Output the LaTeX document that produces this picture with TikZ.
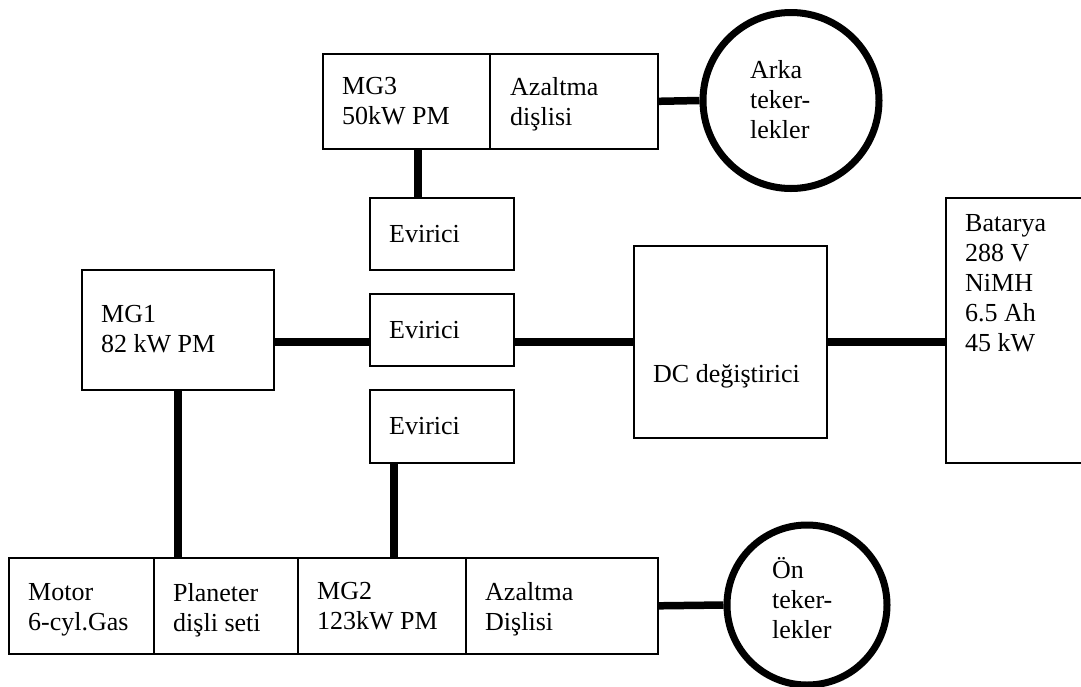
\documentclass[tikz,border=0pt]{standalone}
\usepackage{fontspec}
\setmainfont{Liberation Serif}
\begin{document}
\begin{tikzpicture}[x=1pt,y=-1pt,
  box/.style={draw, line width=1.6pt, rectangle, inner sep=0pt, anchor=north west},
  lbl/.style={font=\fontsize{26}{30}\selectfont, align=left, inner sep=0pt, anchor=north west},
  wheel/.style={draw, circle, line width=7pt, inner sep=0pt, minimum size=#1},
  conn/.style={line width=7.5pt}]
\useasboundingbox (0,0) rectangle (1081,686);
\clip (0,0) rectangle (1081,686);
% top row
\node[box, minimum width=167pt, minimum height=95pt] (mg3) at (322,53) {};
\node[lbl] (mg3t) at (342,77.5) {MG3\\50kW PM};
\node[box, minimum width=168pt, minimum height=95pt] (az1) at (489,53) {};
\node[lbl] (az1t) at (510,77.5) {Azaltma\\dişlisi};
\node[wheel=176pt] (arka) at (791,100.5) {};
\node[lbl] (arkat) at (750,60.5) {Arka\\teker-\\lekler};
% inverters
\node[box, minimum width=144pt, minimum height=72pt] (ev1) at (369,197) {};
\node[lbl] (ev1t) at (389,225.5) {Evirici};
\node[box, minimum width=144pt, minimum height=72pt] (ev2) at (369,293) {};
\node[lbl] (ev2t) at (389,321.5) {Evirici};
\node[box, minimum width=144pt, minimum height=73pt] (ev3) at (369,389) {};
\node[lbl] (ev3t) at (389,417.5) {Evirici};
% MG1
\node[box, minimum width=192pt, minimum height=120pt] (mg1) at (81,269) {};
\node[lbl] (mg1t) at (101,305.5) {MG1\\82 kW PM};
% DC converter
\node[box, minimum width=193pt, minimum height=192pt] (dc) at (633,245) {};
\node[lbl, anchor=base west] (dct) at (653,382) {DC değiştirici};
% battery
\node[box, minimum width=200pt, minimum height=265pt] (bat) at (945,197) {};
\node[lbl] (batt) at (965,214.5) {Batarya\\288 V\\NiMH\\6.5 Ah\\45 kW};
% bottom row
\node[box, minimum width=145pt, minimum height=96pt] (mot) at (8,557) {};
\node[lbl] (mott) at (28,583.5) {Motor\\6-cyl.Gas};
\node[box, minimum width=144pt, minimum height=96pt] (plan) at (153,557) {};
\node[lbl] (plant) at (173,583.5) {Planeter\\dişli seti};
\node[box, minimum width=168pt, minimum height=96pt] (mg2) at (297,557) {};
\node[lbl] (mg2t) at (317,582.5) {MG2\\123kW PM};
\node[box, minimum width=192pt, minimum height=96pt] (az2) at (465,557) {};
\node[lbl] (az2t) at (485,582.5) {Azaltma\\Dişlisi};
\node[wheel=160pt] (on) at (807,605) {};
\node[lbl] (ont) at (772,557.5) {Ön\\teker-\\lekler};
% connectors
\draw[conn] (az1.east) -- (arka.west);
\draw[conn] ([xshift=-24pt]ev1.north) -- ([xshift=-24pt]ev1.north |- mg3.south);
\draw[conn] (mg1.east |- dc.west) -- (ev2.west |- dc.west);
\draw[conn] (ev2.east |- dc.west) -- (dc.west);
\draw[conn] (dc.east) -- (bat.west |- dc.east);
\draw[conn] (mg1.south) -- (mg1.south |- plan.north);
\draw[conn] ([xshift=-48pt]ev3.south) -- ([xshift=-48pt]ev3.south |- mg2.north);
\draw[conn] (az2.east) -- (on.west);
\end{tikzpicture}
\end{document}
